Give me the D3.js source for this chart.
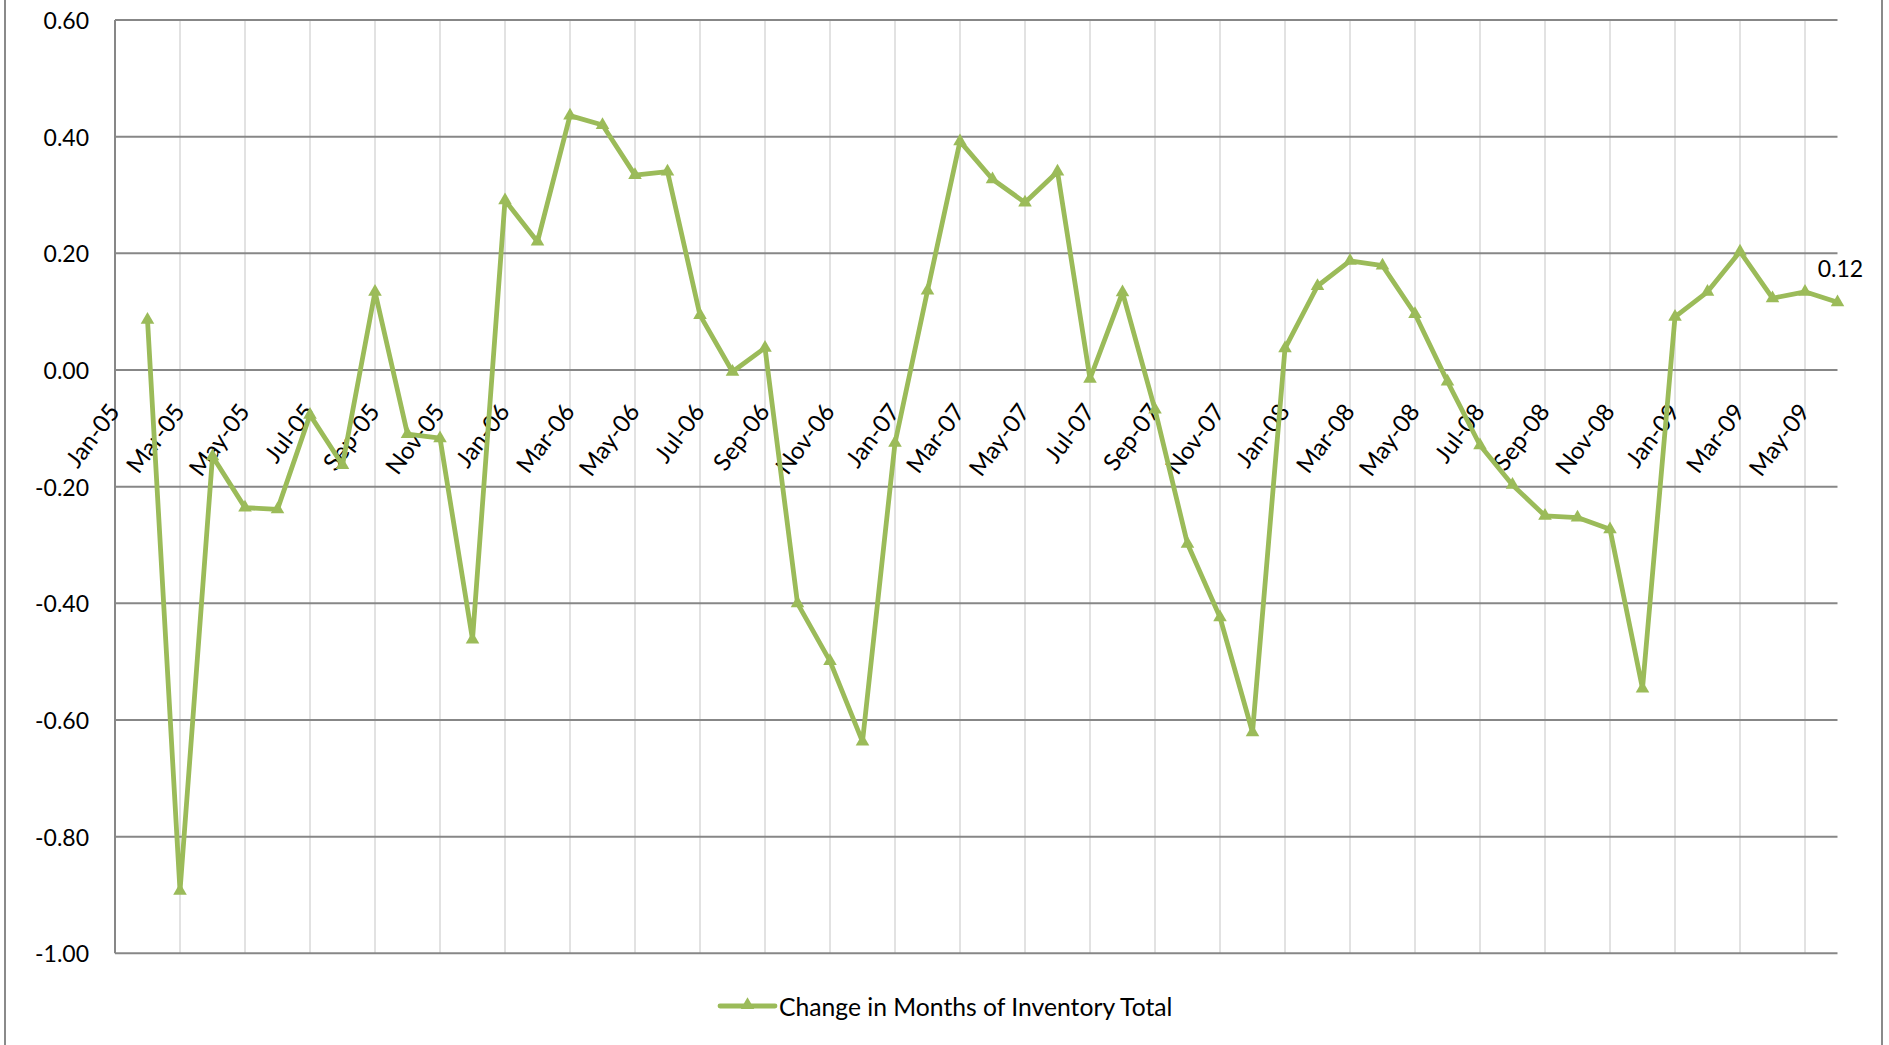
<!DOCTYPE html>
<html>
<head>
<meta charset="utf-8">
<script src="https://cdn.jsdelivr.net/npm/d3@7"></script>
<style>
  html, body { margin: 0; padding: 0; background: #fff; }
  svg { display: block; font-family: Lato, "Noto Sans", sans-serif; }
</style>
</head>
<body>
<svg id="chart" width="1889" height="1045"></svg>
<script>
const categories = [
  "Jan-05","Feb-05","Mar-05","Apr-05","May-05","Jun-05","Jul-05","Aug-05","Sep-05","Oct-05","Nov-05","Dec-05",
  "Jan-06","Feb-06","Mar-06","Apr-06","May-06","Jun-06","Jul-06","Aug-06","Sep-06","Oct-06","Nov-06","Dec-06",
  "Jan-07","Feb-07","Mar-07","Apr-07","May-07","Jun-07","Jul-07","Aug-07","Sep-07","Oct-07","Nov-07","Dec-07",
  "Jan-08","Feb-08","Mar-08","Apr-08","May-08","Jun-08","Jul-08","Aug-08","Sep-08","Oct-08","Nov-08","Dec-08",
  "Jan-09","Feb-09","Mar-09","Apr-09","May-09","Jun-09"
];
const changeValues = [
  null, 0.086, -0.893, -0.148, -0.236, -0.239, -0.077, -0.163, 0.134, -0.110, -0.117, -0.462,
  0.291, 0.220, 0.436, 0.420, 0.334, 0.340, 0.094, -0.003, 0.038, -0.400, -0.499, -0.637,
  -0.125, 0.136, 0.392, 0.327, 0.287, 0.340, -0.015, 0.133, -0.068, -0.298, -0.424, -0.621,
  0.037, 0.144, 0.187, 0.179, 0.096, -0.020, -0.129, -0.197, -0.250, -0.253, -0.273, -0.546,
  0.091, 0.134, 0.203, 0.123, 0.134, 0.116
];
const yTicks = [-1.0, -0.8, -0.6, -0.4, -0.2, 0.0, 0.2, 0.4, 0.6];
const seriesName = "Change in Months of Inventory Total";
const lastLabel = "0.12";

const green = "#9BBB59";
const svg = d3.select("#chart");

const plotLeft = 115, plotRight = 1837.5, plotTop = 20, plotBottom = 953.3;
const x = d3.scalePoint().domain(categories).range([plotLeft, plotRight]);
const y = d3.scaleLinear().domain([-1.0, 0.6]).range([plotBottom, plotTop]);

// outer chart border (visible sides)
svg.append("line").attr("x1", 5).attr("x2", 5).attr("y1", 0).attr("y2", 1045)
  .attr("stroke", "#8a8a8a").attr("stroke-width", 2);
svg.append("line").attr("x1", 1882).attr("x2", 1882).attr("y1", 0).attr("y2", 1045)
  .attr("stroke", "#8a8a8a").attr("stroke-width", 2);

// vertical gridlines every 2 months
const vCats = categories.filter((c, i) => i % 2 === 0 && i > 0);
svg.append("g").selectAll("line").data(vCats).join("line")
  .attr("x1", d => x(d)).attr("x2", d => x(d))
  .attr("y1", plotTop).attr("y2", plotBottom)
  .attr("stroke", "#d9d9d9").attr("stroke-width", 1.5);

// horizontal gridlines
svg.append("g").selectAll("line").data(yTicks).join("line")
  .attr("x1", plotLeft).attr("x2", plotRight)
  .attr("y1", d => y(d)).attr("y2", d => y(d))
  .attr("stroke", "#878787").attr("stroke-width", 2);

// y axis line
svg.append("line").attr("x1", plotLeft).attr("x2", plotLeft).attr("y1", plotTop).attr("y2", plotBottom)
  .attr("stroke", "#878787").attr("stroke-width", 2);

// y tick labels (hyphen-minus like the original)
const fmt = d => d3.format(".2f")(d).replace("\u2212", "-");
svg.append("g").selectAll("text").data(yTicks).join("text")
  .attr("x", 89).attr("y", d => y(d))
  .attr("text-anchor", "end").attr("dominant-baseline", "central")
  .attr("font-size", 23).attr("fill", "#000")
  .text(fmt);

// category labels (every 2 months), rotated
const labelCats = categories.filter((c, i) => i % 2 === 0);
svg.append("g").selectAll("text").data(labelCats).join("text")
  .attr("transform", d => `translate(${x(d) + 6},${y(0) + 42}) rotate(-53)`)
  .attr("text-anchor", "end")
  .attr("font-size", 24).attr("fill", "#000")
  .text(d => d);

// series line
const pts = categories.map((c, i) => ({ c, v: changeValues[i] })).filter(d => d.v !== null);
const line = d3.line().x(d => x(d.c)).y(d => y(d.v));
svg.append("path").datum(pts)
  .attr("d", line)
  .attr("fill", "none").attr("stroke", green).attr("stroke-width", 4.8)
  .attr("stroke-linejoin", "round").attr("stroke-linecap", "round");

const tri = d3.symbol().type(d3.symbolTriangle).size(80);
svg.append("g").selectAll("path").data(pts).join("path")
  .attr("d", tri)
  .attr("transform", d => `translate(${x(d.c)},${y(d.v)})`)
  .attr("fill", green);

// data label on last point
const last = pts[pts.length - 1];
svg.append("text")
  .attr("x", x(last.c) + 3).attr("y", y(last.v) - 25)
  .attr("text-anchor", "middle").attr("font-size", 23).attr("fill", "#000")
  .text(lastLabel);

// legend
const lg = svg.append("g");
lg.append("line").attr("x1", 720).attr("x2", 775).attr("y1", 1006).attr("y2", 1006)
  .attr("stroke", green).attr("stroke-width", 4.8).attr("stroke-linecap", "round");
lg.append("path").attr("d", tri).attr("transform", "translate(747.5,1005)").attr("fill", green);
lg.append("text").attr("x", 779).attr("y", 1006)
  .attr("dominant-baseline", "central").attr("font-size", 24.7).attr("fill", "#000")
  .text(seriesName);
</script>
</body>
</html>
